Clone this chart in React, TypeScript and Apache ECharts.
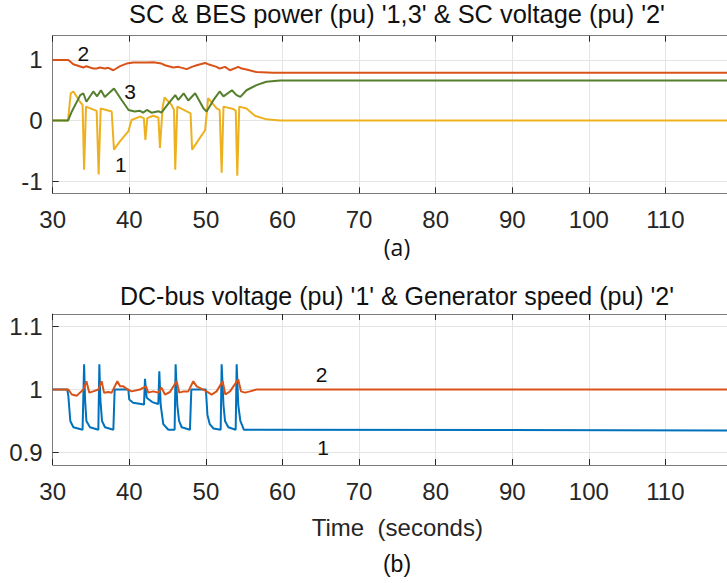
import React, { useEffect, useRef } from 'react';
import * as echarts from 'echarts';

// ---- axis ticks ----
const xTickLabels = [30, 40, 50, 60, 70, 80, 90, 100, 110];
const topYTicks = [-1, 0, 1];
const bottomYTicks = [0.9, 1, 1.1];

// ---- (a) SC power '1' (pu) ----
const scPowerTime = [30, 32.0, 32.35, 32.7, 33.56, 33.9, 34.1, 34.35, 35.74, 36.0, 36.26, 37.7, 38.0, 38.8, 39.87, 40.3, 41.4, 41.9, 42.1, 42.35, 43.1, 43.8, 44.0, 44.36, 44.6, 45.5, 45.84, 46.0, 46.27, 47.5, 48.0, 48.2, 49.2, 49.9, 50.3, 51.4, 51.8, 52.06, 52.3, 53.6, 53.9, 54.1, 54.36, 55.3, 56.4, 57.9, 59.7, 120];
const scPowerValue = [0, 0, 0.45, 0.48, 0.31, 0.26, -0.81, 0.23, 0.16, -0.89, 0.2, 0.15, -0.48, -0.34, -0.18, 0.01, 0.066, 0.04, -0.32, 0.04, 0.08, 0.05, -0.45, 0.23, 0.38, 0.26, 0.175, -0.81, 0.23, 0.15, 0.12, -0.48, -0.29, -0.16, 0.37, 0.2, 0.175, -0.86, 0.23, 0.19, 0.16, -0.91, 0.23, 0.2, 0.08, 0.02, 0, 0];

// ---- (a) SC voltage '2' (pu) ----
const scVoltTime = [30, 32.04, 32.7, 34.0, 34.4, 34.87, 35.3, 35.74, 36.17, 36.83, 37.26, 37.92, 38.8, 39.66, 40.53, 41.4, 42.27, 43.14, 44.2, 44.66, 45.75, 46.4, 47.5, 48.17, 48.8, 49.9, 50.3, 51.4, 51.8, 52.5, 53.15, 54.23, 54.67, 55.3, 56.6, 58.8, 120];
const scVoltValue = [1.0, 1.0, 0.93, 0.875, 0.897, 0.875, 0.858, 0.858, 0.875, 0.858, 0.87, 0.83, 0.897, 0.94, 0.957, 0.957, 0.957, 0.962, 0.94, 0.913, 0.875, 0.886, 0.848, 0.886, 0.913, 0.95, 0.93, 0.886, 0.858, 0.886, 0.83, 0.886, 0.858, 0.843, 0.8, 0.79, 0.79];

// ---- (a) BES power '3' (pu) ----
const besTime = [30, 32.0, 32.5, 33.6, 34.0, 34.4, 35.3, 35.8, 36.3, 36.8, 38.0, 39.0, 39.9, 40.7, 41.4, 41.8, 42.3, 42.9, 43.8, 44.2, 45.1, 45.5, 46.0, 46.4, 47.1, 47.7, 48.6, 49.7, 50.1, 51.0, 51.8, 52.3, 53.4, 54.0, 54.5, 55.3, 56.6, 57.9, 59.7, 120];
const besValue = [0, 0, 0.15, 0.42, 0.45, 0.31, 0.48, 0.4, 0.5, 0.39, 0.53, 0.34, 0.175, 0.15, 0.16, 0.13, 0.175, 0.13, 0.155, 0.13, 0.28, 0.34, 0.42, 0.34, 0.45, 0.33, 0.45, 0.2, 0.15, 0.34, 0.48, 0.4, 0.5, 0.42, 0.39, 0.5, 0.585, 0.64, 0.66, 0.66];

// ---- (b) DC-bus voltage '1' (pu) ----
const dcTime = [30, 31.9, 32.04, 32.3, 32.7, 33.9, 34.1, 34.22, 34.4, 34.87, 35.96, 36.09, 36.22, 36.44, 36.83, 37.92, 38.09, 39.87, 40.0, 40.5, 41.92, 42.05, 42.27, 43.0, 43.79, 43.92, 44.1, 44.44, 45.1, 45.92, 46.05, 46.27, 46.5, 46.84, 47.92, 48.1, 50.0, 50.2, 50.5, 51.0, 51.93, 52.06, 52.3, 52.5, 52.93, 53.89, 54.02, 54.23, 54.5, 54.97, 120];
const dcValue = [1.0, 1.0, 0.99, 0.95, 0.94, 0.936, 1.04, 0.985, 0.95, 0.94, 0.936, 1.04, 0.985, 0.95, 0.94, 0.936, 1.0, 1.0, 0.984, 0.979, 0.976, 1.017, 0.987, 0.98, 0.977, 1.029, 0.975, 0.945, 0.936, 0.936, 1.04, 0.975, 0.95, 0.94, 0.936, 1.0, 1.0, 0.96, 0.945, 0.938, 0.936, 1.04, 0.975, 0.95, 0.94, 0.936, 1.04, 0.975, 0.95, 0.936, 0.935];

// ---- (b) Generator speed '2' (pu) ----
const genTime = [30, 32.04, 32.5, 33.13, 33.56, 34.0, 34.4, 34.78, 35.3, 35.96, 36.39, 36.7, 37.26, 37.7, 38.44, 38.8, 39.22, 39.66, 40.3, 41.4, 42.18, 42.48, 43.1, 43.8, 44.2, 44.66, 45.31, 46.18, 46.53, 47.1, 47.7, 48.36, 48.8, 49.45, 50.1, 50.75, 51.4, 52.19, 52.54, 53.15, 54.23, 54.58, 55.1, 55.76, 56.6, 120];
const genValue = [1.0, 1.0, 0.992, 0.99, 0.995, 1.0, 1.013, 0.995, 0.997, 1.0, 1.013, 0.995, 0.996, 0.995, 1.013, 1.005, 1.005, 1.001, 0.997, 1.0, 1.005, 0.995, 0.997, 0.995, 1.003, 0.992, 0.996, 1.013, 0.995, 0.997, 0.997, 1.013, 1.005, 1.001, 0.997, 0.992, 0.997, 1.013, 0.992, 0.997, 1.016, 0.997, 0.995, 0.997, 1.0, 1.0];

// ---- curve tags ----
const topTagNames = ['1', '2', '3'];
const topTagCoords = [[38.9, -0.73], [34.0, 1.1], [40.1, 0.475]];
const bottomTagNames = ['1', '2'];
const bottomTagCoords = [[65.3, 0.908], [65.1, 1.024]];

const FONT = "'Liberation Sans', Arial, Helvetica, sans-serif";
const FRAME = '#7d7d7d';
const TEXT = '#262626';
const GRID = '#e4e4e4';
const TOP_TITLE = "SC & BES power (pu) '1,3' & SC voltage (pu) '2'";
const BOTTOM_TITLE = "DC-bus voltage (pu) '1' & Generator speed (pu) '2'";

const zip = (t: number[], v: number[]) => t.map((x, i) => [x, v[i]]);

const tag = (name: string, coord: number[]) => ({
  coord,
  symbol: 'circle',
  symbolSize: 1,
  itemStyle: { color: 'rgba(0,0,0,0)' },
  label: { show: true, position: 'inside', formatter: name, color: '#111', fontSize: 21, fontFamily: FONT },
});

function xAxes(gridIndex: number, withName: boolean) {
  const base = {
    type: 'value',
    gridIndex,
    min: 30,
    max: 120,
    interval: 10,
    axisLine: { show: true, onZero: false, lineStyle: { color: FRAME, width: 1 } },
    axisTick: { show: true, inside: true, length: 6, lineStyle: { color: TEXT } },
  };
  return [
    {
      ...base,
      position: 'bottom',
      axisLabel: {
        show: true,
        fontSize: 24,
        color: TEXT,
        fontFamily: FONT,
        margin: 14,
        formatter: (v: number) => (xTickLabels.includes(v) ? String(v) : ''),
      },
      splitLine: { show: true, lineStyle: { color: GRID, width: 1 } },
      ...(withName
        ? {
            name: 'Time  (seconds)',
            nameLocation: 'middle',
            nameGap: 50,
            nameTextStyle: { fontSize: 24, color: TEXT, fontFamily: FONT },
          }
        : {}),
    },
    {
      ...base,
      position: 'top',
      axisLabel: { show: false },
      splitLine: { show: false },
    },
  ];
}

function yAxis(gridIndex: number, min: number, max: number, ticks: number[]) {
  return {
    type: 'value',
    gridIndex,
    min,
    max,
    axisLine: { show: true, onZero: false, lineStyle: { color: FRAME, width: 1 } },
    axisTick: { show: true, inside: true, length: 6, customValues: ticks, lineStyle: { color: TEXT } },
    axisLabel: {
      show: true,
      customValues: ticks,
      fontSize: 24,
      color: TEXT,
      fontFamily: FONT,
      margin: 10,
      formatter: (v: number) => String(Math.round(v * 10) / 10),
    },
    splitLine: { show: true, lineStyle: { color: GRID, width: 1 } },
  };
}

export default function App() {
  const ref = useRef<HTMLDivElement>(null);
  useEffect(() => {
    if (!ref.current) return;
    const chart = echarts.init(ref.current, null, { renderer: 'svg' });
    const lineBase = { type: 'line', showSymbol: false, symbol: 'none', lineStyle: { width: 2 } };
    const option: any = {
      animation: false,
      backgroundColor: '#fff',
      title: [
        {
          text: TOP_TITLE,
          left: 'center',
          top: 1,
          padding: 0,
          textStyle: { fontSize: 25.4, fontWeight: 'normal', color: '#111', fontFamily: FONT },
        },
        {
          text: '(a)',
          left: 'center',
          top: 235,
          padding: 0,
          textStyle: { fontSize: 23, fontWeight: 'normal', color: '#111', fontFamily: "'Open Sans', sans-serif" },
        },
        {
          text: BOTTOM_TITLE,
          left: 'center',
          top: 283,
          padding: 0,
          textStyle: { fontSize: 25, fontWeight: 'normal', color: '#111', fontFamily: FONT },
        },
        {
          text: '(b)',
          left: 'center',
          top: 552,
          padding: 0,
          textStyle: { fontSize: 23, fontWeight: 'normal', color: '#111', fontFamily: FONT },
        },
      ],
      grid: [
        { left: 52.7, top: 35.7, width: 689.3, height: 157.6, show: false },
        { left: 52.7, top: 314, width: 689.3, height: 151, show: false },
      ],
      xAxis: [...xAxes(0, false), ...xAxes(1, true)],
      yAxis: [yAxis(0, -1.2, 1.4, topYTicks), yAxis(1, 0.88, 1.12, bottomYTicks)],
      series: [
        {
          ...lineBase,
          name: 'SC power',
          xAxisIndex: 0,
          yAxisIndex: 0,
          data: zip(scPowerTime, scPowerValue),
          color: '#EDB120',
          markPoint: { data: topTagNames.map((n, i) => tag(n, topTagCoords[i])) },
        },
        {
          ...lineBase,
          name: 'SC voltage',
          xAxisIndex: 0,
          yAxisIndex: 0,
          data: zip(scVoltTime, scVoltValue),
          color: '#D95319',
        },
        {
          ...lineBase,
          name: 'BES power',
          xAxisIndex: 0,
          yAxisIndex: 0,
          data: zip(besTime, besValue),
          color: '#557f2c',
        },
        {
          ...lineBase,
          name: 'DC-bus voltage',
          xAxisIndex: 2,
          yAxisIndex: 1,
          data: zip(dcTime, dcValue),
          color: '#0072BD',
          markPoint: { data: bottomTagNames.map((n, i) => tag(n, bottomTagCoords[i])) },
        },
        {
          ...lineBase,
          name: 'Generator speed',
          xAxisIndex: 2,
          yAxisIndex: 1,
          data: zip(genTime, genValue),
          color: '#D95319',
        },
      ],
    };
    chart.setOption(option);
    return () => chart.dispose();
  }, []);
  return (
    <div
      style={{
        position: 'fixed',
        left: 0,
        top: 0,
        width: 727,
        height: 583,
        overflow: 'hidden',
        background: '#fff',
      }}
    >
      <div ref={ref} style={{ width: 794, height: 583 }} />
    </div>
  );
}
